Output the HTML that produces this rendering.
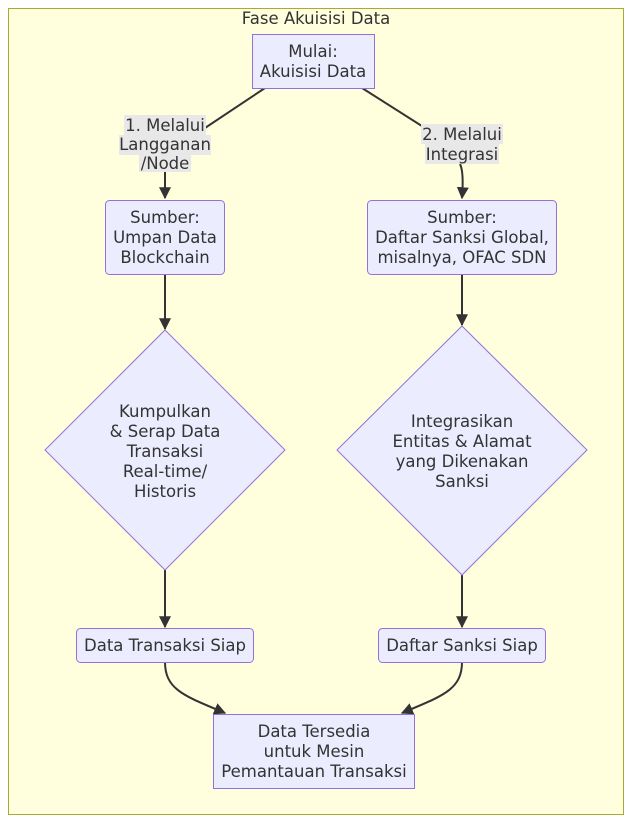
<!DOCTYPE html>
<html><head><meta charset="utf-8"><style>
html,body{margin:0;padding:0;background:#fff;}
svg{display:block;}
text{font-family:"DejaVu Sans","Liberation Sans",sans-serif;font-size:16.5px;fill:#333;}
.n{fill:#ececff;stroke:#9370db;stroke-width:1;}
.e{fill:none;stroke:#333;stroke-width:2;}
.lb{fill:#e8e8e8;}
</style></head><body>
<svg width="640" height="834" viewBox="0 0 640 834" xmlns="http://www.w3.org/2000/svg">
<defs><marker id="b" viewBox="0 0 10 10" refX="9" refY="5" markerWidth="12" markerHeight="12" markerUnits="userSpaceOnUse" orient="auto"><path d="M0,0L10,5L0,10z" fill="#333"/></marker></defs>
<rect x="8.5" y="8.5" width="615" height="806" fill="#ffffde" stroke="#aaaa33"/>
<text x="316" y="24" text-anchor="middle">Fase Akuisisi Data</text>

<path class="e" d="M265,88 L205,128"/>
<path class="e" d="M165,172 L165,198" marker-end="url(#b)"/>
<path class="e" d="M362,88 L425,128"/>
<path class="e" d="M460,164 Q464,172 462,198" marker-end="url(#b)"/>
<path class="e" d="M165,274 L165,329" marker-end="url(#b)"/>
<path class="e" d="M462,274 L462,325" marker-end="url(#b)"/>
<path class="e" d="M165,570 L165,627" marker-end="url(#b)"/>
<path class="e" d="M462,575 L462,627" marker-end="url(#b)"/>
<path class="e" d="M165,662 C165,690 185,696 225,713" marker-end="url(#b)"/>
<path class="e" d="M462,662 C462,690 442,696 402,713" marker-end="url(#b)"/>

<rect class="lb" x="124" y="115" width="82" height="20"/>
<rect class="lb" x="119" y="135" width="92" height="20"/>
<rect class="lb" x="139" y="154" width="52" height="18"/>
<text x="165" y="131" text-anchor="middle">1. Melalui</text>
<text x="165" y="150" text-anchor="middle">Langganan</text>
<text x="165" y="169" text-anchor="middle">/Node</text>
<rect class="lb" x="421" y="124" width="82" height="20"/>
<rect class="lb" x="425" y="144" width="74" height="20"/>
<text x="462" y="140" text-anchor="middle">2. Melalui</text>
<text x="462" y="160" text-anchor="middle">Integrasi</text>

<rect class="n" x="252.5" y="34.5" width="122" height="54"/>
<text x="313" y="57" text-anchor="middle">Mulai:</text>
<text x="313" y="77" text-anchor="middle">Akuisisi Data</text>

<rect class="n" x="105.5" y="200.5" width="119" height="74" rx="4"/>
<text x="165" y="223" text-anchor="middle">Sumber:</text>
<text x="165" y="243" text-anchor="middle">Umpan Data</text>
<text x="165" y="263" text-anchor="middle">Blockchain</text>

<rect class="n" x="367.5" y="200.5" width="189" height="74" rx="4"/>
<text x="462" y="223" text-anchor="middle">Sumber:</text>
<text x="462" y="243" text-anchor="middle">Daftar Sanksi Global,</text>
<text x="462" y="263" text-anchor="middle">misalnya, OFAC SDN</text>

<polygon class="n" points="165,330 285,450 165,570 45,450"/>
<text x="165" y="417" text-anchor="middle">Kumpulkan</text>
<text x="165" y="437" text-anchor="middle">&amp; Serap Data</text>
<text x="165" y="457" text-anchor="middle">Transaksi</text>
<text x="165" y="477" text-anchor="middle">Real-time/</text>
<text x="165" y="497" text-anchor="middle">Historis</text>

<polygon class="n" points="462,326 587,450 462,575 337,450"/>
<text x="462" y="427" text-anchor="middle">Integrasikan</text>
<text x="462" y="447" text-anchor="middle">Entitas &amp; Alamat</text>
<text x="462" y="467" text-anchor="middle">yang Dikenakan</text>
<text x="462" y="487" text-anchor="middle">Sanksi</text>

<rect class="n" x="76.5" y="628.5" width="177" height="34" rx="4"/>
<text x="165" y="651" text-anchor="middle">Data Transaksi Siap</text>

<rect class="n" x="378.5" y="628.5" width="167" height="34" rx="4"/>
<text x="462" y="651" text-anchor="middle">Daftar Sanksi Siap</text>

<rect class="n" x="213.5" y="714.5" width="201" height="74"/>
<text x="314" y="737" text-anchor="middle">Data Tersedia</text>
<text x="314" y="757" text-anchor="middle">untuk Mesin</text>
<text x="314" y="777" text-anchor="middle">Pemantauan Transaksi</text>
</svg>
</body></html>
